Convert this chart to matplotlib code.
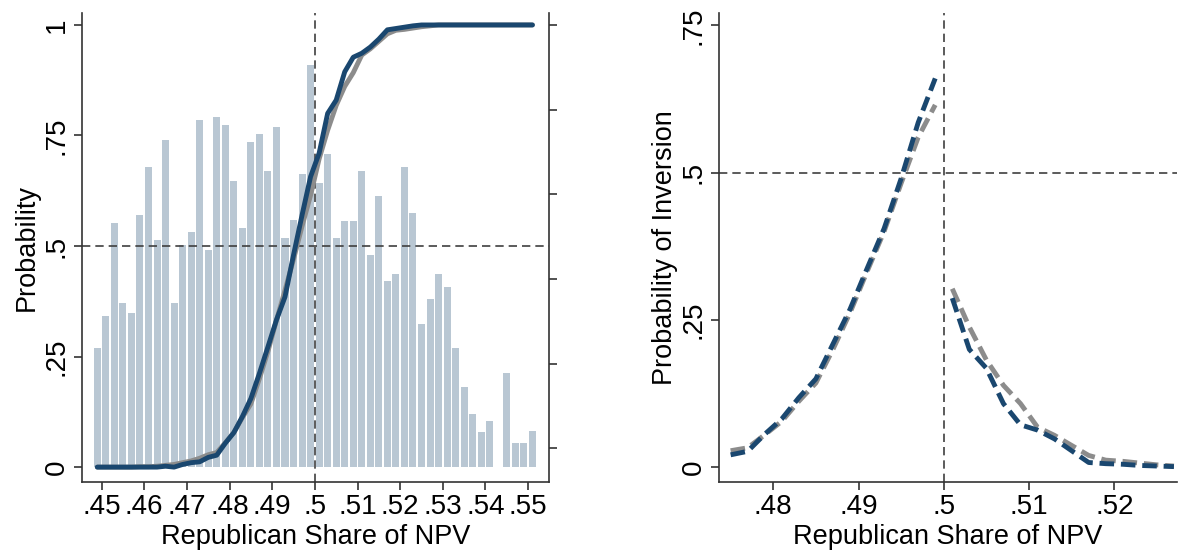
import matplotlib
matplotlib.use("Agg")
import matplotlib.pyplot as plt

plt.rcParams["font.family"] = ["Liberation Sans", "DejaVu Sans"]

# -- data --------------------------------------------------------------------
# Histogram of simulated Republican NPV shares (bin centres, bar heights).
bin_centers = [
    0.449, 0.451, 0.453, 0.455, 0.457, 0.459, 0.461, 0.463, 0.465, 0.467,
    0.469, 0.471, 0.473, 0.475, 0.477, 0.479, 0.481, 0.483, 0.485, 0.487,
    0.489, 0.491, 0.493, 0.495, 0.497, 0.499, 0.501, 0.503, 0.505, 0.507,
    0.509, 0.511, 0.513, 0.515, 0.517, 0.519, 0.521, 0.523, 0.525, 0.527,
    0.529, 0.531, 0.533, 0.535, 0.537, 0.539, 0.541, 0.543, 0.545, 0.547,
    0.549, 0.551,
]
bar_heights = [
    0.270, 0.342, 0.553, 0.372, 0.349, 0.570, 0.679, 0.514, 0.740, 0.372,
    0.502, 0.532, 0.786, 0.492, 0.792, 0.774, 0.647, 0.541, 0.736, 0.754,
    0.670, 0.770, 0.519, 0.559, 0.664, 0.910, 0.643, 0.709, 0.519, 0.557,
    0.557, 0.670, 0.480, 0.613, 0.421, 0.437, 0.679, 0.575, 0.324, 0.380,
    0.437, 0.408, 0.270, 0.182, 0.121, 0.079, 0.104, 0.000, 0.213, 0.054,
    0.054, 0.081,
]
# P(Republican wins the Electoral College), empirical and fitted.
prob_empirical = [
    0.000, 0.000, 0.000, 0.000, 0.000, 0.000, 0.000, 0.000, 0.002, 0.000,
    0.006, 0.010, 0.012, 0.022, 0.027, 0.054, 0.078, 0.114, 0.155, 0.212,
    0.272, 0.333, 0.385, 0.480, 0.570, 0.657, 0.710, 0.800, 0.830, 0.894,
    0.927, 0.936, 0.950, 0.968, 0.989, 0.992, 0.995, 0.998, 1.000, 1.000,
    1.000, 1.000, 1.000, 1.000, 1.000, 1.000, 1.000, 1.000, 1.000, 1.000,
    1.000, 1.000,
]
prob_fitted = [
    0.000, 0.000, 0.000, 0.000, 0.000, 0.001, 0.001, 0.002, 0.004, 0.006,
    0.010, 0.014, 0.020, 0.028, 0.033, 0.055, 0.078, 0.112, 0.143, 0.200,
    0.262, 0.332, 0.400, 0.470, 0.545, 0.615, 0.697, 0.762, 0.818, 0.861,
    0.892, 0.932, 0.946, 0.963, 0.980, 0.988, 0.990, 0.993, 0.996, 0.998,
    1.000, 1.000, 1.000, 1.000, 1.000, 1.000, 1.000, 1.000, 1.000, 1.000,
    1.000, 1.000,
]

# Probability of an inversion, split at .5.
inv_x_left = [0.475, 0.477, 0.479, 0.481, 0.483, 0.485, 0.487, 0.489, 0.491,
              0.493, 0.495, 0.497, 0.499]
inv_emp_left = [0.021, 0.027, 0.056, 0.082, 0.118, 0.150, 0.209, 0.268, 0.337,
                0.405, 0.490, 0.585, 0.660]
inv_fit_left = [0.028, 0.033, 0.055, 0.078, 0.112, 0.143, 0.200, 0.262, 0.332,
                0.400, 0.482, 0.560, 0.615]
inv_x_right = [0.501, 0.503, 0.505, 0.507, 0.509, 0.511, 0.513, 0.515, 0.517,
               0.519, 0.521, 0.523, 0.525, 0.527]
inv_emp_right = [0.287, 0.200, 0.168, 0.108, 0.072, 0.063, 0.048, 0.028, 0.008,
                 0.006, 0.005, 0.003, 0.002, 0.001]
inv_fit_right = [0.303, 0.238, 0.182, 0.139, 0.108, 0.068, 0.054, 0.037, 0.020,
                 0.012, 0.010, 0.007, 0.004, 0.002]

left_xticks = [0.45, 0.46, 0.47, 0.48, 0.49, 0.50, 0.51, 0.52, 0.53, 0.54, 0.55]
left_xlabels = [".45", ".46", ".47", ".48", ".49", ".5", ".51", ".52", ".53", ".54", ".55"]
left_yticks = [0, 0.25, 0.5, 0.75, 1]
left_ylabels = ["0", ".25", ".5", ".75", "1"]
hist_ticks = [0.043, 0.234, 0.425, 0.617, 0.808, 0.999]
right_xticks = [0.48, 0.49, 0.50, 0.51, 0.52]
right_xlabels = [".48", ".49", ".5", ".51", ".52"]
right_yticks = [0, 0.25, 0.5, 0.75]
right_ylabels = ["0", ".25", ".5", ".75"]

# -- styles ------------------------------------------------------------------
NAVY = "#1a476f"
GRAY = "#8c8c8c"
BAR = "#b9c7d3"
REF = {"color": "#3f3f3f", "linewidth": 1.2, "linestyle": (0, (5, 3))}
TICK_FS = 20
LABEL_FS = 19.5
SPINE = "#333333"
LW = 3.5


def style_axis(ax, spines):
    for side, sp in ax.spines.items():
        sp.set_visible(side in spines)
        sp.set_color(SPINE)
        sp.set_linewidth(1.2)
    ax.tick_params(axis="both", direction="out", length=6, width=1.2,
                   color=SPINE, labelsize=TICK_FS)
    ax.tick_params(axis="x", pad=3)
    ax.tick_params(axis="y", pad=3)
    for lab in ax.get_yticklabels():
        lab.set_rotation(90)
        lab.set_va("center")


fig = plt.figure(figsize=(11.79, 5.54), dpi=100)

# -- left panel ---------------------------------------------------------------
ax = fig.add_axes([0.0695, 0.1305, 0.3962, 0.846])
ax.bar(bin_centers, bar_heights, width=0.00165, color=BAR, zorder=1)
ax.axhline(0.5, zorder=2, **REF)
ax.axvline(0.5, zorder=2, **REF)
ax.plot(bin_centers, prob_fitted, color=GRAY, linewidth=LW, zorder=3,
        solid_capstyle="round")
ax.plot(bin_centers, prob_empirical, color=NAVY, linewidth=LW, zorder=4,
        solid_capstyle="round")
ax.set_xlim(0.4454, 0.5549)
ax.set_ylim(-0.033, 1.027)
ax.set_xticks(left_xticks, left_xlabels)
ax.set_yticks(left_yticks, left_ylabels)
ax.set_xlabel("Republican Share of NPV", fontsize=LABEL_FS, labelpad=3)
ax.set_ylabel("Probability", fontsize=LABEL_FS, labelpad=3)
style_axis(ax, ("left", "bottom", "right"))

ax2 = ax.twinx()
ax2.set_ylim(ax.get_ylim())
ax2.set_yticks(hist_ticks, [""] * len(hist_ticks))
for sp in ax2.spines.values():
    sp.set_visible(False)
ax2.tick_params(axis="y", direction="out", length=6, width=1.2, color=SPINE)

# -- right panel --------------------------------------------------------------
bx = fig.add_axes([0.6098, 0.1305, 0.3885, 0.846])
bx.axhline(0.5, zorder=1, **REF)
bx.axvline(0.5, zorder=1, **REF)
dash = (0, (3, 1.4))
bx.plot(inv_x_left, inv_fit_left, color=GRAY, linewidth=LW, linestyle=dash, zorder=2)
bx.plot(inv_x_right, inv_fit_right, color=GRAY, linewidth=LW, linestyle=dash, zorder=2)
bx.plot(inv_x_left, inv_emp_left, color=NAVY, linewidth=LW, linestyle=dash, zorder=3)
bx.plot(inv_x_right, inv_emp_right, color=NAVY, linewidth=LW, linestyle=dash, zorder=3)
bx.set_xlim(0.47363, 0.52736)
bx.set_ylim(-0.0246, 0.771)
bx.set_xticks(right_xticks, right_xlabels)
bx.set_yticks(right_yticks, right_ylabels)
bx.set_xlabel("Republican Share of NPV", fontsize=LABEL_FS, labelpad=3)
bx.set_ylabel("Probability of Inversion", fontsize=LABEL_FS, labelpad=2)
style_axis(bx, ("left", "bottom"))

fig.savefig("out.png", dpi=100)
